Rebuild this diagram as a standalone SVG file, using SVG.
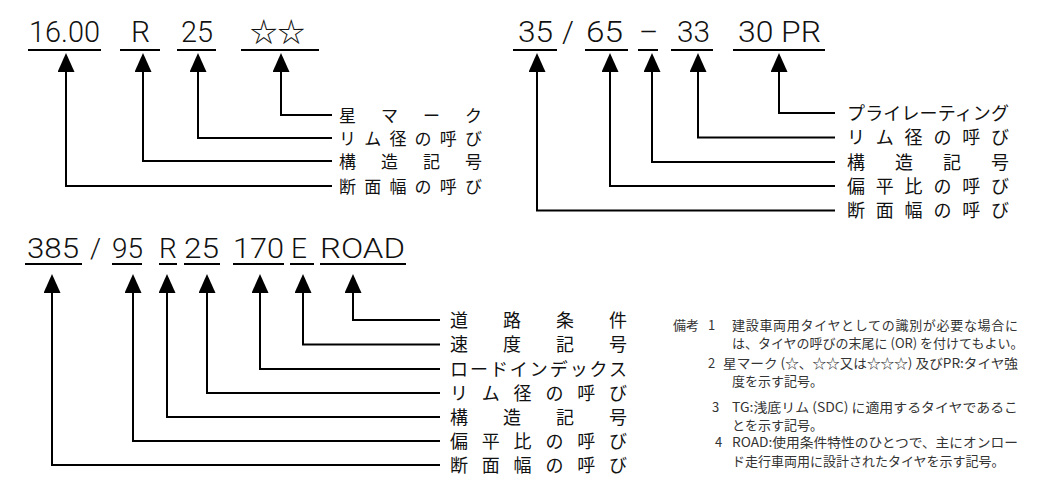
<svg xmlns="http://www.w3.org/2000/svg" width="1048" height="494" viewBox="0 0 1048 494">
<defs>
<style>
.code{font-family:Roboto,"Liberation Sans",Arial,sans-serif;font-weight:300;font-size:30px;fill:#111}
.codeb{font-family:Roboto,"Liberation Sans",Arial,sans-serif;font-weight:300;font-size:28px;fill:#111}
.star{font-family:"Noto Sans CJK JP",sans-serif;font-size:27px;fill:#111}
.ul{stroke:#000;stroke-width:2;fill:none}
.con{stroke:#000;stroke-width:2;fill:none;marker-start:url(#tri)}
.lab1{font-family:"Noto Sans CJK JP",sans-serif;font-size:17px;fill:#111}
.lab2{font-family:"Noto Sans CJK JP",sans-serif;font-size:18px;fill:#111}
.lab3{font-family:"Noto Sans CJK JP",sans-serif;font-size:18px;fill:#111}
.note{font-family:"Noto Sans CJK JP",sans-serif;font-size:13px;fill:#333}
</style>
<marker id="tri" markerUnits="userSpaceOnUse" markerWidth="19" markerHeight="17" viewBox="0 0 19 17" refX="12" refY="8.5" orient="auto-start-reverse">
<path d="M0,0 L19,8.5 L0,17 z" fill="#000"/>
</marker>
</defs>

<!-- Example 1 -->
<g id="ex1-code">
<text class="code" x="29" y="42" textLength="71" lengthAdjust="spacingAndGlyphs">16.00</text>
<text class="code" x="131" y="42">R</text>
<text class="code" x="181" y="42" textLength="32" lengthAdjust="spacingAndGlyphs">25</text>
<text class="star" x="250" y="42" textLength="55" lengthAdjust="spacingAndGlyphs">☆☆</text>
<path class="ul" d="M28,50 H101 M120,50 H160 M177,50 H216 M241,50 H319"/>
</g>
<g id="ex1-l1"><text class="lab1" x="339" y="121.5" textLength="143" lengthAdjust="spacing">星マーク</text></g>
<g id="ex1-l2"><text class="lab1" x="339" y="144.5" textLength="143" lengthAdjust="spacing">リム径の呼び</text></g>
<g id="ex1-l3"><text class="lab1" x="339" y="167.5" textLength="143" lengthAdjust="spacing">構造記号</text></g>
<g id="ex1-l4"><text class="lab1" x="339" y="192.5" textLength="143" lengthAdjust="spacing">断面幅の呼び</text></g>

<!-- Example 2 -->
<g id="ex2-code">
<text class="code" x="518" y="42" textLength="35" lengthAdjust="spacingAndGlyphs">35</text>
<text class="code" x="562" y="42">/</text>
<text class="code" x="586" y="42" textLength="37" lengthAdjust="spacingAndGlyphs">65</text>
<text class="code" x="640" y="42" textLength="17" lengthAdjust="spacingAndGlyphs">—</text>
<text class="code" x="677" y="42" textLength="33" lengthAdjust="spacingAndGlyphs">33</text>
<text class="code" x="738" y="42" textLength="83" lengthAdjust="spacingAndGlyphs">30 PR</text>
<path class="ul" d="M513,50 H557 M585,50 H628 M638,50 H658 M671,50 H713 M733,50 H825"/>
</g>
<g id="ex2-l1"><text class="lab2" x="847" y="119.8" textLength="162" lengthAdjust="spacing">プライレーティング</text></g>
<g id="ex2-l2"><text class="lab2" x="847" y="144.3" textLength="162" lengthAdjust="spacing">リム径の呼び</text></g>
<g id="ex2-l3"><text class="lab2" x="847" y="168.8" textLength="162" lengthAdjust="spacing">構造記号</text></g>
<g id="ex2-l4"><text class="lab2" x="847" y="192.8" textLength="162" lengthAdjust="spacing">偏平比の呼び</text></g>
<g id="ex2-l5"><text class="lab2" x="847" y="217.3" textLength="162" lengthAdjust="spacing">断面幅の呼び</text></g>

<!-- Example 3 -->
<g id="ex3-code">
<text class="codeb" x="27" y="258" textLength="52" lengthAdjust="spacingAndGlyphs">385</text>
<text class="codeb" x="90" y="258">/</text>
<text class="codeb" x="112" y="258" textLength="31" lengthAdjust="spacingAndGlyphs">95</text>
<text class="codeb" x="159" y="258">R</text>
<text class="codeb" x="184" y="258" textLength="35" lengthAdjust="spacingAndGlyphs">25</text>
<text class="codeb" x="233" y="258" textLength="51" lengthAdjust="spacingAndGlyphs">170</text>
<text class="codeb" x="291" y="258">E</text>
<text class="codeb" x="320" y="258" textLength="85" lengthAdjust="spacingAndGlyphs">ROAD</text>
<path class="ul" d="M25,264 H82 M112,264 H142 M159,264 H177 M184,264 H220 M233,264 H284 M290,264 H314 M320,264 H406"/>
</g>
<g id="ex3-l1"><text class="lab3" x="450" y="326.8" textLength="177" lengthAdjust="spacing">道路条件</text></g>
<g id="ex3-l2"><text class="lab3" x="450" y="351.3" textLength="177" lengthAdjust="spacing">速度記号</text></g>
<g id="ex3-l3"><text class="lab3" x="450" y="375.8" textLength="177" lengthAdjust="spacing">ロードインデックス</text></g>
<g id="ex3-l4"><text class="lab3" x="450" y="399.8" textLength="177" lengthAdjust="spacing">リム径の呼び</text></g>
<g id="ex3-l5"><text class="lab3" x="450" y="423.8" textLength="177" lengthAdjust="spacing">構造記号</text></g>
<g id="ex3-l6"><text class="lab3" x="450" y="447.8" textLength="177" lengthAdjust="spacing">偏平比の呼び</text></g>
<g id="ex3-l7"><text class="lab3" x="450" y="471.8" textLength="177" lengthAdjust="spacing">断面幅の呼び</text></g>

<!-- Connectors -->
<g id="connectors">
<path class="con" d="M281,60 V115 H332"/>
<path class="con" d="M198,60 V138 H332"/>
<path class="con" d="M143,60 V161 H332"/>
<path class="con" d="M66,60 V186 H332"/>

<path class="con" d="M779,60 V113 H835"/>
<path class="con" d="M698,60 V137.5 H835"/>
<path class="con" d="M652,60 V162 H835"/>
<path class="con" d="M610,60 V186 H835"/>
<path class="con" d="M537,60 V210.5 H835"/>

<path class="con" d="M353,281 V320 H440"/>
<path class="con" d="M303,281 V344.5 H440"/>
<path class="con" d="M260,281 V369 H440"/>
<path class="con" d="M207,281 V393 H440"/>
<path class="con" d="M167,281 V417 H440"/>
<path class="con" d="M133,281 V441 H440"/>
<path class="con" d="M52,281 V465 H440"/>
</g>

<!-- Notes -->
<g id="notes">
<text class="note" x="673" y="330">備考</text>
<text class="note" x="708" y="330">1</text>
<text class="note" x="732" y="330" textLength="286" lengthAdjust="spacing">建設車両用タイヤとしての識別が必要な場合に</text>
<text class="note" x="732" y="348">は、タイヤの呼びの末尾に (OR) を付けてもよい。</text>
<text class="note" x="708" y="368">2</text>
<text class="note" x="723" y="368" textLength="295" lengthAdjust="spacingAndGlyphs">星マーク (☆、☆☆又は☆☆☆) 及びPR:タイヤ強</text>
<text class="note" x="732" y="386">度を示す記号。</text>
<text class="note" x="712" y="412">3</text>
<text class="note" x="732" y="412" textLength="286" lengthAdjust="spacingAndGlyphs">TG:浅底リム (SDC) に適用するタイヤであるこ</text>
<text class="note" x="732" y="430">とを示す記号。</text>
<text class="note" x="715" y="447">4</text>
<text class="note" x="732" y="447" textLength="286" lengthAdjust="spacingAndGlyphs">ROAD:使用条件特性のひとつで、主にオンロー</text>
<text class="note" x="732" y="466">ド走行車両用に設計されたタイヤを示す記号。</text>
</g>
</svg>
